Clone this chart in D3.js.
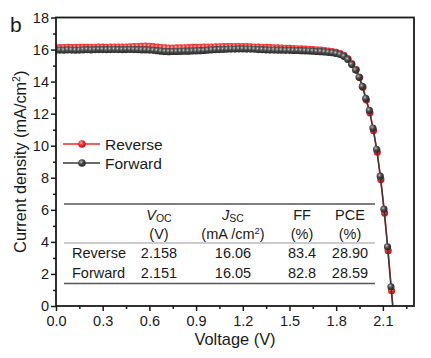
<!DOCTYPE html>
<html><head><meta charset="utf-8">
<script src="https://cdn.jsdelivr.net/npm/d3@7"></script>
<style>body{margin:0;background:#fff}svg{display:block;font-family:Arial,"Liberation Sans",sans-serif}</style>
</head><body><svg id="c" width="431" height="358"></svg>
<script>
// ---- data ----
const denseV = [0,0.025,0.05,0.075,0.1,0.125,0.15,0.175,0.2,0.225,0.25,0.275,
0.3,0.325,0.35,0.375,0.4,0.425,0.45,0.475,0.5,0.525,0.55,0.575,
0.6,0.625,0.65,0.675,0.7,0.725,0.75,0.775,0.8,0.825,0.85,0.875,
0.9,0.925,0.95,0.975,1.0,1.025,1.05,1.075,1.1,1.125,1.15,1.175,
1.2,1.225,1.25,1.275,1.3,1.325,1.35,1.375,1.4,1.425,1.45,1.475,
1.5,1.525,1.55,1.575,1.6,1.625,1.65,1.675,1.7,1.725,1.75,1.775,
1.8,1.825,1.85,1.875,1.9];
const forwardDenseJ = [15.96,15.97,15.96,15.98,15.97,15.96,15.97,15.98,15.99,15.98,15.99,16.0,
16.0,15.99,16.0,16.01,16.0,15.99,16.0,16.01,16.0,15.99,15.98,15.98,
15.97,15.95,15.93,15.9,15.88,15.87,15.88,15.88,15.89,15.9,15.9,15.91,
15.92,15.93,15.94,15.96,15.98,15.99,16.0,16.01,16.02,16.03,16.03,16.04,
16.04,16.03,16.03,16.02,16.0,15.99,15.98,15.97,15.97,15.96,15.96,15.95,
15.95,15.94,15.94,15.93,15.92,15.91,15.9,15.88,15.87,15.85,15.83,15.8,
15.76,15.69,15.58,15.38,15.06];
const reverseDenseJ = [16.11,16.12,16.12,16.13,16.12,16.13,16.13,16.14,16.13,16.14,16.14,16.15,
16.15,16.14,16.15,16.16,16.15,16.15,16.16,16.17,16.18,16.19,16.2,16.21,
16.2,16.18,16.15,16.12,16.1,16.09,16.09,16.1,16.1,16.11,16.12,16.13,
16.13,16.14,16.15,16.16,16.16,16.17,16.17,16.18,16.18,16.18,16.19,16.19,
16.19,16.18,16.17,16.16,16.15,16.14,16.13,16.12,16.11,16.1,16.09,16.08,
16.07,16.06,16.05,16.04,16.03,16.02,16.0,15.98,15.96,15.94,15.91,15.87,
15.82,15.75,15.64,15.44,15.12];
const forwardTailV = [1.925,1.947,1.968,1.99,2.013,2.036,2.06,2.083,2.107,2.13,2.152,2.175];
const forwardTailJ = [14.72,14.28,13.7,12.95,12.2,11.1,9.78,8.1,6.04,3.69,1.2,-1.3];
const reverseTailV = [1.929,1.951,1.972,1.994,2.017,2.04,2.064,2.087,2.111,2.134,2.156,2.179];
const reverseTailJ = [14.75,14.25,13.65,12.85,12.05,10.95,9.6,7.9,5.8,3.45,0.95,-1.6];

const seriesNames = ["Reverse","Forward"];
const xTicks = [0,0.3,0.6,0.9,1.2,1.5,1.8,2.1];
const xMinorTicks = [0.15,0.45,0.75,1.05,1.35,1.65,1.95,2.25];
const yTicks = [0,2,4,6,8,10,12,14,16,18];
const yMinorTicks = [1,3,5,7,9,11,13,15,17];

const tableHeader2 = ["(V)","(mA /cm²)","(%)","(%)"];
const tableRows = [
  ["Reverse","2.158","16.06","83.4","28.90"],
  ["Forward","2.151","16.05","82.8","28.59"]
];

// ---- build ----
const reverse = reverseDenseJ.map((j,i)=>({v:denseV[i],j}))
  .concat(reverseTailV.map((v,i)=>({v,j:reverseTailJ[i]})));
const forward = forwardDenseJ.map((j,i)=>({v:denseV[i],j}))
  .concat(forwardTailV.map((v,i)=>({v,j:forwardTailJ[i]})));

const svg = d3.select("#c");
const L=56, R=414, T=17.5, B=306;
const x = d3.scaleLinear().domain([0,2.3]).range([L,R]);
const y = d3.scaleLinear().domain([0,18]).range([B,T]);

const defs = svg.append("defs");
function grad(id, stops){
  const g = defs.append("radialGradient").attr("id",id).attr("cx","38%").attr("cy","35%").attr("r","65%");
  stops.forEach(s=>g.append("stop").attr("offset",s[0]).attr("stop-color",s[1]));
}
grad("gGray",[["0%","#d8d8d8"],["22%","#7a7a7a"],["55%","#404040"],["100%","#2a2a2a"]]);
grad("gRed",[["0%","#ffd0d0"],["25%","#ff5a5a"],["60%","#ee2020"],["100%","#c81010"]]);
defs.append("clipPath").attr("id","clip").append("rect").attr("x",L).attr("y",T).attr("width",R-L).attr("height",B-T);

const plot = svg.append("g").attr("clip-path","url(#clip)");
const line = d3.line().x(d=>x(d.v)).y(d=>y(d.j));
const series = [
  {data:reverse, stroke:"#ee2a2a", fill:"url(#gRed)"},
  {data:forward, stroke:"#3a3a3a", fill:"url(#gGray)"}
];
series.forEach(s=>{
  plot.append("path").datum(s.data).attr("d",line).attr("fill","none").attr("stroke",s.stroke).attr("stroke-width",1.5);
  plot.selectAll(null).data(s.data).enter().append("circle")
    .attr("cx",d=>x(d.v)).attr("cy",d=>y(d.j)).attr("r",3.6).attr("fill",s.fill);
});

// table
const tg = svg.append("g").attr("fill","#1a1a1a").style("font-size","14.5px");
const tx0=64, tx1=375;
tg.append("line").attr("x1",tx0).attr("x2",tx1).attr("y1",204).attr("y2",204).attr("stroke","#555").attr("stroke-width",1.6);
tg.append("line").attr("x1",tx0).attr("x2",tx1).attr("y1",243).attr("y2",243).attr("stroke","#999").attr("stroke-width",1);
tg.append("line").attr("x1",tx0).attr("x2",tx1).attr("y1",283.5).attr("y2",283.5).attr("stroke","#555").attr("stroke-width",1.6);
const colX = [72,159,233,302,350];
function sym(cx, main, sub){
  const t = tg.append("text").attr("x",cx).attr("y",219.5).attr("text-anchor","middle");
  t.append("tspan").style("font-style","italic").text(main);
  t.append("tspan").style("font-size","10.5px").attr("dy",2).text(sub);
}
sym(colX[1],"V","OC");
sym(colX[2],"J","SC");
tg.append("text").attr("x",colX[3]).attr("y",219.5).attr("text-anchor","middle").text("FF");
tg.append("text").attr("x",colX[4]).attr("y",219.5).attr("text-anchor","middle").text("PCE");
tableHeader2.forEach((h,i)=>{
  const t = tg.append("text").attr("x",colX[i+1]).attr("y",238.5).attr("text-anchor","middle");
  if(h.indexOf("²")>=0){
    t.append("tspan").text("(mA /cm");
    t.append("tspan").style("font-size","9.5px").attr("dy",-5).text("2");
    t.append("tspan").attr("dy",5).text(")");
  } else t.text(h);
});
tableRows.forEach((r,ri)=>{
  r.forEach((c,ci)=>{
    tg.append("text").attr("x",colX[ci]).attr("y",258+ri*19.5)
      .attr("text-anchor",ci===0?"start":"middle").text(c);
  });
});

// axes
const axG = svg.append("g");
axG.append("g").attr("transform",`translate(0,${B})`)
  .call(d3.axisBottom(x).tickValues(xTicks).tickFormat(d3.format(".1f")).tickSize(5).tickPadding(5));
axG.append("g").attr("transform",`translate(0,${B})`)
  .call(d3.axisBottom(x).tickValues(xMinorTicks).tickFormat("").tickSize(3));
axG.append("g").attr("transform",`translate(${L},0)`)
  .call(d3.axisLeft(y).tickValues(yTicks).tickSize(5).tickPadding(2));
axG.append("g").attr("transform",`translate(${L},0)`)
  .call(d3.axisLeft(y).tickValues(yMinorTicks).tickFormat("").tickSize(3));
axG.selectAll(".domain").remove();
axG.selectAll(".tick line").attr("stroke","#1a1a1a").attr("stroke-width",1.5);
axG.selectAll(".tick text").attr("fill","#1a1a1a")
  .style("font-family","Arial,'Liberation Sans',sans-serif").style("font-size","14.5px");
svg.append("rect").attr("x",L).attr("y",T).attr("width",R-L).attr("height",B-T)
  .attr("fill","none").attr("stroke","#1a1a1a").attr("stroke-width",1.8);

// titles
svg.append("text").attr("x",(L+R)/2).attr("y",345).attr("text-anchor","middle")
  .style("font-size","16.4px").attr("fill","#1a1a1a").text("Voltage (V)");
const yt = svg.append("text").attr("transform",`translate(26,${(T+B)/2}) rotate(-90)`)
  .attr("text-anchor","middle").style("font-size","16.3px").attr("fill","#1a1a1a");
yt.append("tspan").text("Current density (mA/cm");
yt.append("tspan").style("font-size","10.5px").attr("dy",-6).text("2");
yt.append("tspan").attr("dy",6).text(")");
svg.append("text").attr("x",10).attr("y",32).style("font-size","21px").attr("fill","#1a1a1a").text("b");

// legend
const lg = svg.append("g");
[{n:seriesNames[0],s:series[0],yy:144},{n:seriesNames[1],s:series[1],yy:163}].forEach(d=>{
  lg.append("line").attr("x1",63).attr("x2",100).attr("y1",d.yy).attr("y2",d.yy).attr("stroke",d.s.stroke).attr("stroke-width",1.5);
  lg.append("circle").attr("cx",82).attr("cy",d.yy).attr("r",3.8).attr("fill",d.s.fill);
  lg.append("text").attr("x",105).attr("y",d.yy+5.5).style("font-size","15.5px").attr("fill","#1a1a1a").text(d.n);
});
</script></body></html>
